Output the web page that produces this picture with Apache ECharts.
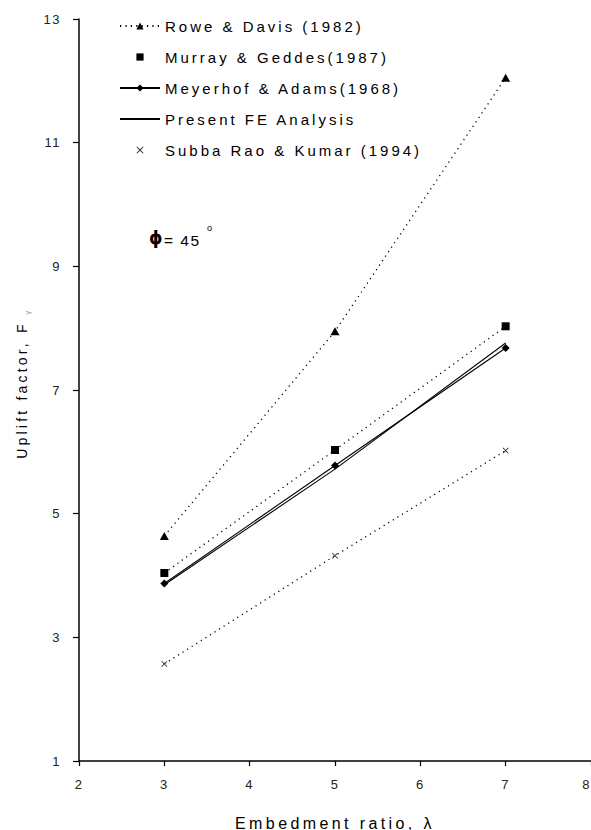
<!DOCTYPE html>
<html>
<head>
<meta charset="utf-8">
<script src="https://cdn.jsdelivr.net/npm/echarts@6/dist/echarts.min.js"></script>
<style>
  html, body { margin: 0; padding: 0; background: #fff; overflow: hidden; }
  #chart { width: 591px; height: 830px; display: block; overflow: hidden; }
  #chart text { letter-spacing: 1.5px; }
  #chart text[style*="15px"] { letter-spacing: 3px; }
  #chart text[style*="16px"] { letter-spacing: 3.4px; }
  #chart text[style*="14px"] { letter-spacing: 3.2px; }
  #chart text[style*="17px"] { letter-spacing: 0; }
  #chart text[style*="15.5px"] { letter-spacing: 1.5px; }
</style>
</head>
<body>
<div id="chart"></div>
<script>
// ---- data ----
const xValues = [3, 5, 7];
const roweDavis = [4.64, 7.95, 12.05];
const murrayGeddes = [4.04, 6.03, 8.03];
const meyerhofAdams = [3.87, 5.78, 7.68];
const presentFE = [3.85, 5.72, 7.76];
const subbaRaoKumar = [2.57, 4.32, 6.02];

const seriesNames = [
  'Rowe & Davis (1982)',
  'Murray & Geddes(1987)',
  'Meyerhof & Adams(1968)',
  'Present FE Analysis',
  'Subba Rao & Kumar (1994)'
];

const xTicks = [2, 3, 4, 5, 6, 7, 8];
const yTicks = [1, 3, 5, 7, 9, 11, 13];

function pairs(ys) { return xValues.map((x, i) => [x, ys[i]]); }

const crossPath = 'path://M0,1 L1,0 L5,4 L9,0 L10,1 L6,5 L10,9 L9,10 L5,6 L1,10 L0,9 L4,5 Z';
const dotted = [1.2, 4.2];
const FONT = 'Liberation Sans, Arial, sans-serif';

const chart = echarts.init(document.getElementById('chart'), null, { renderer: 'svg', width: 591, height: 830 });

const option = {
  backgroundColor: '#ffffff',
  animation: false,
  textStyle: { fontFamily: FONT, color: '#000' },
  grid: { left: 79, top: 19, width: 512, height: 742, containLabel: false, outerBoundsMode: 'none' },
  xAxis: {
    type: 'value',
    min: xTicks[0], max: xTicks[xTicks.length - 1], interval: 1,
    name: 'Embedment ratio, λ',
    nameLocation: 'middle',
    nameGap: 54,
    nameTextStyle: { fontSize: 16, color: '#000', fontFamily: FONT },
    axisLine: { show: true, onZero: false, lineStyle: { color: '#000', width: 1.5 } },
    axisTick: { show: true, inside: false, length: 5, lineStyle: { color: '#000', width: 1.2 } },
    axisLabel: { fontSize: 13, color: '#222', margin: 17, hideOverlap: false, alignMaxLabel: 'right' },
    splitLine: { show: false }
  },
  yAxis: {
    type: 'value',
    min: yTicks[0], max: yTicks[yTicks.length - 1], interval: 2,
    name: 'Uplift factor, F',
    nameLocation: 'middle',
    nameRotate: 90,
    nameGap: 50,
    nameTextStyle: { fontSize: 14, color: '#000', fontFamily: FONT },
    axisLine: { show: true, onZero: false, lineStyle: { color: '#000', width: 1.5 } },
    axisTick: { show: true, inside: false, length: 6, lineStyle: { color: '#000', width: 1.2 } },
    axisLabel: { fontSize: 13, color: '#222', margin: 18 },
    splitLine: { show: false }
  },
  legend: {
    orient: 'vertical',
    left: 114,
    top: 13,
    itemWidth: 40,
    itemHeight: 9,
    itemGap: 15,
    textStyle: { fontSize: 15, color: '#000', lineHeight: 16, fontFamily: FONT },
    data: [
      { name: seriesNames[0] },
      { name: seriesNames[1], lineStyle: { opacity: 0 } },
      { name: seriesNames[2] },
      { name: seriesNames[3], itemStyle: { opacity: 0 } },
      { name: seriesNames[4], lineStyle: { opacity: 0 } }
    ]
  },
  graphic: [
    {
      type: 'text', left: 149, top: 229,
      style: { text: 'ϕ', fontSize: 17, fontWeight: 'bold', fill: '#000', fontFamily: 'DejaVu Sans, sans-serif' }
    },
    {
      type: 'text', left: 164, top: 232,
      style: { text: '= 45', fontSize: 15.5, fill: '#000', fontFamily: FONT }
    },
    {
      type: 'text', left: 207, top: 223,
      style: { text: 'o', fontSize: 9, fill: '#000', fontFamily: FONT }
    },
    {
      type: 'text', x: 27, y: 312, rotation: Math.PI / 2,
      style: { text: 'γ', fontSize: 7, fill: '#999', fontFamily: FONT, align: 'center', verticalAlign: 'middle' }
    }
  ],
  series: [
    {
      name: seriesNames[0], type: 'line', data: pairs(roweDavis),
      symbol: 'triangle', symbolSize: [9, 8],
      itemStyle: { color: '#000' },
      lineStyle: { color: '#000', width: 1.3, type: dotted }
    },
    {
      name: seriesNames[1], type: 'line', data: pairs(murrayGeddes),
      symbol: 'rect', symbolSize: 8,
      itemStyle: { color: '#000' },
      lineStyle: { color: '#000', width: 1.3, type: dotted }
    },
    {
      name: seriesNames[2], type: 'line', data: pairs(meyerhofAdams),
      symbol: 'diamond', symbolSize: [8, 8],
      itemStyle: { color: '#000' },
      lineStyle: { color: '#000', width: 1.1, type: 'solid' }
    },
    {
      name: seriesNames[3], type: 'line', data: pairs(presentFE),
      symbol: 'none',
      itemStyle: { color: '#000' },
      lineStyle: { color: '#000', width: 1.1, type: 'solid' }
    },
    {
      name: seriesNames[4], type: 'line', data: pairs(subbaRaoKumar),
      symbol: crossPath, symbolSize: 6,
      itemStyle: { color: '#333' },
      lineStyle: { color: '#000', width: 1.3, type: dotted }
    }
  ]
};

chart.setOption(option);
</script>
</body>
</html>
